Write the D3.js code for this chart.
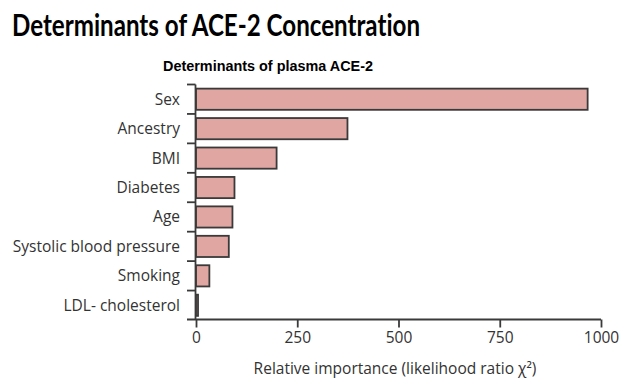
<!DOCTYPE html>
<html><head><meta charset="utf-8">
<script src="https://cdn.jsdelivr.net/npm/d3@7"></script>
<style>body{margin:0;background:#fff}svg{display:block}</style>
</head><body>
<svg id="c" width="635" height="389"></svg>
<script>
const categories = ["Sex","Ancestry","BMI","Diabetes","Age","Systolic blood pressure","Smoking","LDL- cholesterol"];
const values = [967, 374, 199, 95, 90, 81, 33, 5];
const xTicks = [0, 250, 500, 750, 1000];
const title = "Determinants of ACE-2 Concentration";
const subtitle = "Determinants of plasma ACE-2";
const xLabel = "Relative importance (likelihood ratio χ²)";

const svg = d3.select("#c");
const x = d3.scaleLinear().domain([0, 1000]).range([196, 601]);
const y = d3.scaleBand().domain(categories).range([84.5, 320]).paddingInner(0.28).paddingOuter(0.14);
const ink = "#3a3a3a";
const font = "'Open Sans', sans-serif";

svg.append("text").attr("x", 12).attr("y", 36).text(title)
  .attr("font-family", "Lato, sans-serif").attr("font-weight", 700).attr("font-size", 29.5)
  .style("font-variant-ligatures", "none")
  .attr("textLength", 408).attr("lengthAdjust", "spacingAndGlyphs").attr("fill", "#000");
svg.append("text").attr("x", 268).attr("y", 71).attr("text-anchor", "middle").text(subtitle)
  .attr("font-family", "'Liberation Sans', Arial, sans-serif").attr("font-weight", 700).attr("font-size", 15)
  .attr("textLength", 210).attr("lengthAdjust", "spacingAndGlyphs").attr("fill", "#000");

// bars
svg.append("g").selectAll("rect").data(values).join("rect")
  .attr("x", x(0)).attr("y", (d, i) => y(categories[i]))
  .attr("width", d => x(d) - x(0)).attr("height", y.bandwidth())
  .attr("fill", "#E0A6A2").attr("stroke", ink).attr("stroke-width", 1.8);

// y axis: ticks at band boundaries
const step = y.step();
const yTop = 84.5;
const bounds = d3.range(categories.length).map(i => yTop + i * step);
const ya = svg.append("g");
ya.append("line").attr("x1", 195.5).attr("x2", 195.5).attr("y1", yTop).attr("y2", 320)
  .attr("stroke", ink).attr("stroke-width", 1.8);
ya.selectAll("line.t").data(bounds).join("line").attr("class", "t")
  .attr("x1", 187).attr("x2", 195.5).attr("y1", d => d).attr("y2", d => d)
  .attr("stroke", ink).attr("stroke-width", 1.8);
ya.selectAll("text").data(categories).join("text")
  .attr("x", 180).attr("y", d => y(d) + y.bandwidth() / 2).attr("dy", "0.35em")
  .attr("text-anchor", "end").text(d => d)
  .attr("font-family", font).attr("font-size", 15.5).attr("fill", "#333");

// x axis
const xa = svg.append("g").attr("transform", "translate(0,319.5)")
  .call(d3.axisBottom(x).tickValues(xTicks).tickFormat(d3.format("d")).tickSize(8).tickPadding(4).tickSizeOuter(0));
xa.select(".domain").attr("d", `M187,0H601`).attr("stroke", ink).attr("stroke-width", 1.8);
xa.selectAll(".tick line").attr("stroke", ink).attr("stroke-width", 1.8);
xa.selectAll(".tick text").attr("font-family", font).attr("font-size", 15.5).attr("fill", "#333");

svg.append("text").attr("x", 395).attr("y", 374).attr("text-anchor", "middle").text(xLabel)
  .attr("font-family", font).attr("font-size", 15.5).attr("fill", "#333");
</script>
</body></html>
